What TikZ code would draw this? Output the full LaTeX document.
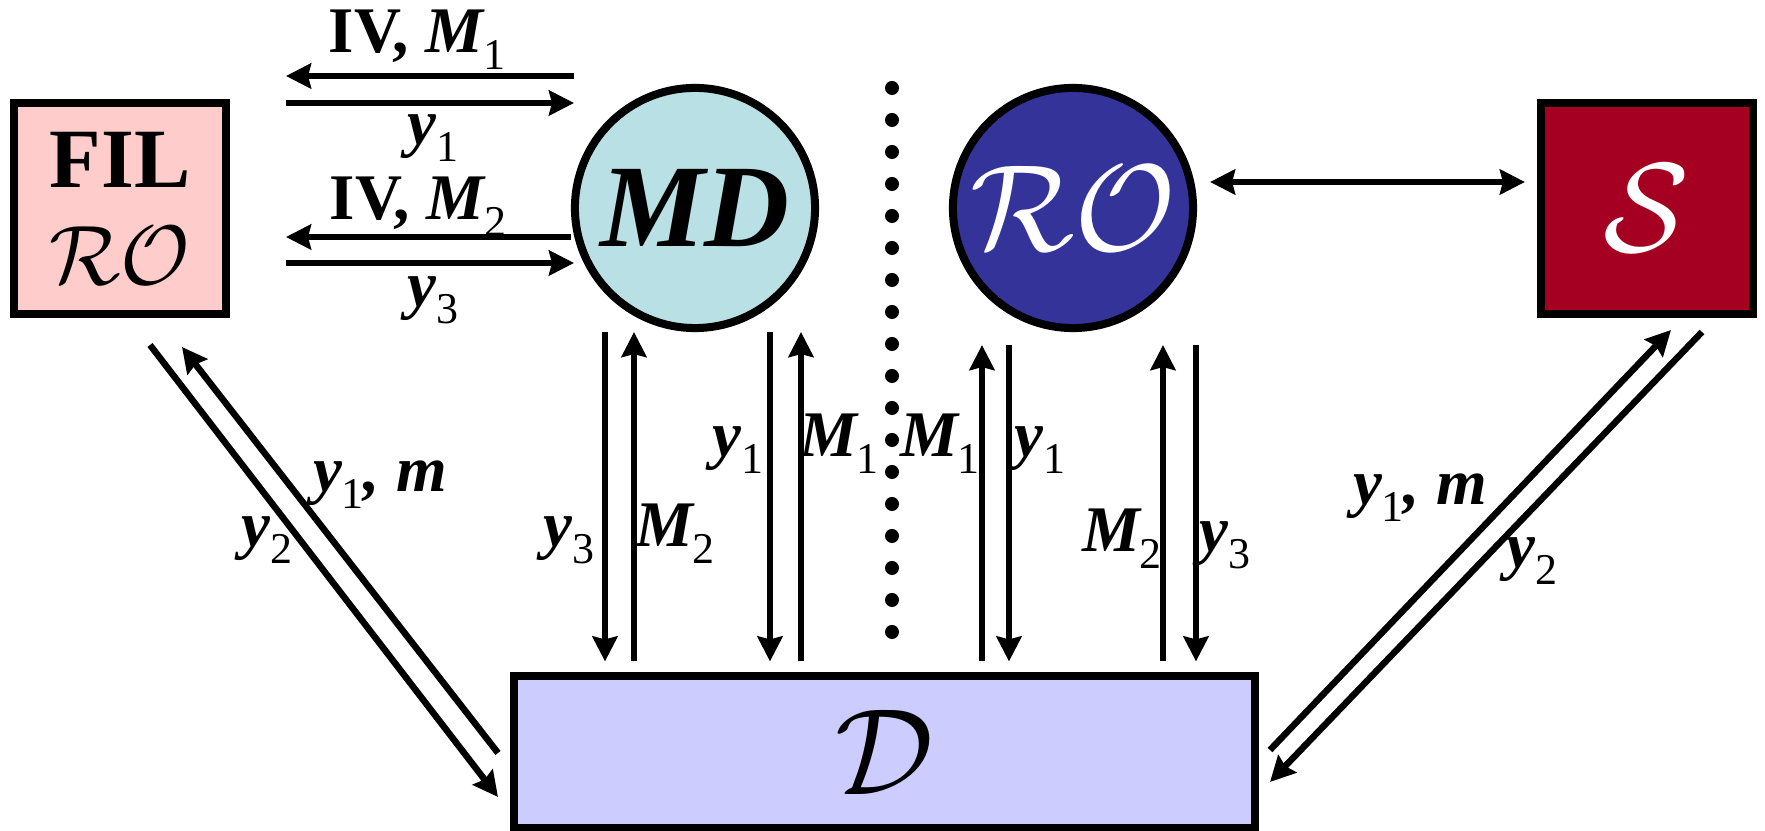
\documentclass[tikz,border=0pt]{standalone}
\usepackage{fix-cm}
\usepackage{fontspec}
\setmainfont{Liberation Serif}
\usetikzlibrary{arrows.meta}

\definecolor{filpink}{RGB}{255,204,204}
\definecolor{mdcyan}{RGB}{185,224,228}
\definecolor{roblue}{RGB}{51,51,153}
\definecolor{sred}{RGB}{165,0,33}
\definecolor{dlilac}{RGB}{204,204,255}

% subscript in the labels
\newcommand{\ls}[1]{\raisebox{-0.25em}{\fontsize{12.5}{13}\selectfont\mdseries\upshape #1}}

\begin{document}
\begin{tikzpicture}[
  x=0.01cm, y=-0.01cm,
  >={Stealth[length=2.5mm,width=2.5mm,inset=0.3mm]},
  lbl/.style={font=\fontsize{18.5}{20}\selectfont\bfseries\itshape,inner sep=0,anchor=base},
  sqbox/.style={draw,line width=0.08cm,minimum width=2.12cm,minimum height=2.11cm,inner sep=0},
  bubble/.style={draw,circle,line width=0.08cm,minimum size=2.40cm,inner sep=0},
  flow/.style={->,line width=0.065cm}
]
\useasboundingbox (0,0) rectangle (1765,831);

% ---- nodes ----
\node[sqbox,fill=filpink,align=center,font=\fontsize{24}{27.5}\selectfont] (fil) at (120,208.5)
  {\textbf{FIL}\\$\mathcal{RO}$};
\node[bubble,fill=mdcyan,font=\fontsize{33.5}{36}\selectfont\bfseries\itshape] (md) at (695,208) {MD};
\node[bubble,fill=roblue,text=white,font=\fontsize{35}{38}\selectfont] (ro) at (1073,208) {$\mathcal{RO}$};
\node[sqbox,fill=sred,text=white,font=\fontsize{36}{40}\selectfont] (s) at (1647,208.5) {$\mathcal{S}$};
\node[draw,line width=0.08cm,fill=dlilac,minimum width=7.41cm,minimum height=1.51cm,inner sep=0,
  font=\fontsize{35}{38}\selectfont] (d) at (884.5,752) {$\mathcal{D}$};

% ---- dotted divider ----
\foreach \k in {0,...,17}
  \fill (892,88+32*\k) circle[radius=7];

% ---- FIL <-> MD ----
\coordinate (filR1) at (286,76);
\coordinate (mdL1) at (574,76);
\coordinate (filR2) at (286,103);
\coordinate (mdL2) at (574,103);
\coordinate (filR3) at (286,237);
\coordinate (mdL3) at (md.west |- filR3);
\coordinate (filR4) at (286,263);
\coordinate (mdL4) at (574,263);

\draw[flow] (mdL1) -- (filR1);
\draw[flow] (filR2) -- (mdL2);
\draw[flow] (mdL3) -- (filR3);
\draw[flow] (filR4) -- (mdL4);

\node[lbl] (lbIVa) at (417,53) {{\upshape IV,} M\ls{1}};
\node[lbl] (lbya) at (433,145) {y\ls{1}};
\node[lbl] (lbIVb) at (418,220) {{\upshape IV,} M\ls{2}};
\node[lbl] (lbyb) at (433,307) {y\ls{3}};

% ---- MD / RO <-> D ----
\foreach \x in {605,770}
  \draw[flow,shorten >=0.11cm] (\x,0 |- md.south) -- (\x,0 |- d.north);
\foreach \x in {634,801}
  \draw[flow,shorten <=0.11cm] (\x,0 |- d.north) -- (\x,0 |- md.south);
\foreach \x in {1009,1196}
  \draw[flow,shorten <=0.13cm,shorten >=0.11cm] (\x,0 |- ro.south) -- (\x,0 |- d.north);
\foreach \x in {982,1163}
  \draw[flow,shorten <=0.11cm,shorten >=0.13cm] (\x,0 |- d.north) -- (\x,0 |- ro.south);

\node[lbl] (lby1l) at (738,457) {y\ls{1}};
\node[lbl] (lbM1l) at (839,457) {M\ls{1}};
\node[lbl] (lbM1r) at (940,457) {M\ls{1}};
\node[lbl] (lby1r) at (1040,457) {y\ls{1}};
\node[lbl] (lby3l) at (569,547) {y\ls{3}};
\node[lbl] (lbM2l) at (675,547) {M\ls{2}};
\node[lbl] (lbM2r) at (1122,552) {M\ls{2}};
\node[lbl] (lby3r) at (1225,552) {y\ls{3}};

% ---- FIL <-> D ----
\coordinate (filD1) at (150,345);
\coordinate (dL1) at (498,797);
\coordinate (dL2) at (498,753);
\coordinate (filD2) at (182,347);
\draw[flow] (filD1) -- (dL1);
\draw[flow] (dL2) -- (filD2);
\node[lbl] (lby1ml) at (380,492) {y\ls{1}, m};
\node[lbl] (lby2l) at (267,547) {y\ls{2}};

% ---- S <-> D ----
\coordinate (dR1) at (1270,750);
\coordinate (sD1) at (1671,330);
\coordinate (sD2) at (1702,332);
\coordinate (dR2) at (1270,782);
\draw[flow] (dR1) -- (sD1);
\draw[flow] (sD2) -- (dR2);
\node[lbl] (lby1mr) at (1420,505) {y\ls{1}, m};
\node[lbl] (lby2r) at (1532,568) {y\ls{2}};

% ---- RO <-> S ----
\coordinate (roE) at (ro.east |- 0,182);
\coordinate (sW) at (s.west |- 0,182);
\draw[<->,line width=0.065cm,shorten <=0.13cm,shorten >=0.12cm] (roE) -- (sW);

\end{tikzpicture}
\end{document}
